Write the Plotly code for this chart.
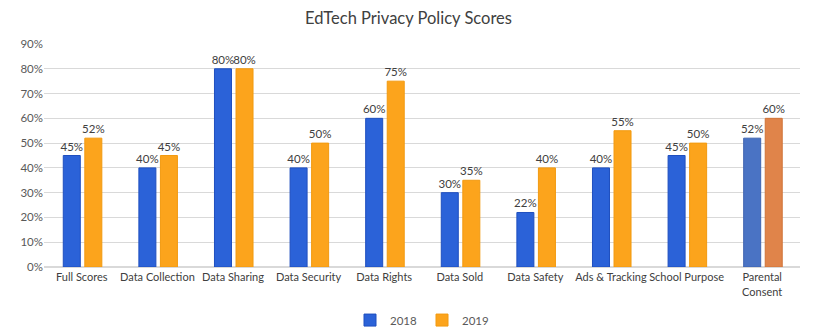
import plotly.graph_objects as go

categories = ["Full Scores", "Data Collection", "Data Sharing", "Data Security", "Data Rights",
              "Data Sold", "Data Safety", "Ads & Tracking", "School Purpose", "Parental<br>Consent"]
scores_2018 = [0.45, 0.40, 0.80, 0.40, 0.60, 0.30, 0.22, 0.40, 0.45, 0.52]
scores_2019 = [0.52, 0.45, 0.80, 0.50, 0.75, 0.35, 0.40, 0.55, 0.50, 0.60]

blue = "#2B62D8"
orange = "#FCA41C"
blue_last = "#4A73C4"
orange_last = "#E0844A"

c18 = [blue] * 9 + [blue_last]
c19 = [orange] * 9 + [orange_last]
l18 = ["#1F4FBF"] * 9 + ["#3F64B0"]
l19 = ["#F29A10"] * 9 + ["#D07438"]

FONT = "Lato, Open Sans, sans-serif"

fig = go.Figure()
fig.add_trace(go.Bar(
    name="2018", x=categories, y=scores_2018,
    width=0.225, offset=-0.245,
    marker=dict(color=c18, line=dict(color=l18, width=1)),
    text=[f"{round(v*100)}%" for v in scores_2018], textposition="outside",
    constraintext="none",
    textfont=dict(size=11.5, color="#404040"), cliponaxis=False,
))
fig.add_trace(go.Bar(
    name="2019", x=categories, y=scores_2019,
    width=0.225, offset=0.04,
    marker=dict(color=c19, line=dict(color=l19, width=1)),
    text=[f"{round(v*100)}%" for v in scores_2019], textposition="outside",
    constraintext="none",
    textfont=dict(size=11.5, color="#404040"), cliponaxis=False,
))

fig.update_layout(
    width=817, height=329,
    margin=dict(l=44, r=17, t=44, b=62, autoexpand=False),
    paper_bgcolor="white", plot_bgcolor="white",
    font=dict(family=FONT, size=11, color="#595959"),
    title=dict(text="EdTech Privacy Policy Scores", x=0.5, xanchor="center", y=0.945, yanchor="middle",
               font=dict(size=16.5, color="#404040")),
    barmode="group",
    legend=dict(orientation="h", x=0.5, xanchor="center", y=-0.238, yanchor="middle",
                font=dict(size=11.5, color="#595959"), itemwidth=30, tracegroupgap=0),
    showlegend=True,
)
fig.update_yaxes(range=[0, 0.9], dtick=0.1, tickformat=".0%", gridcolor="#D9D9D9",
                 zeroline=True, zerolinecolor="#D9D9D9", showline=False, ticks="",
                 automargin=False, tickfont=dict(size=11.5, color="#595959"))
fig.update_xaxes(showline=True, linecolor="#D9D9D9", ticks="", tickangle=0, automargin=False,
                 tickfont=dict(size=11, color="#404040"))

fig.write_html("out.html")
